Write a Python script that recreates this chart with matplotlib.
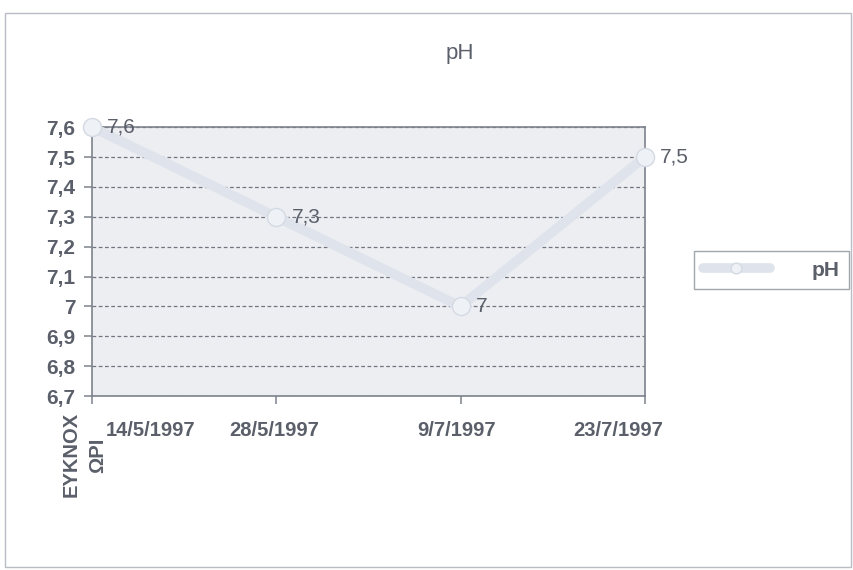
import matplotlib.pyplot as plt
import matplotlib.transforms as mtransforms
from matplotlib.patches import Rectangle

plt.rcParams['font.family'] = ['Liberation Sans', 'DejaVu Sans']

dates = ["14/5/1997", "28/5/1997", "9/7/1997", "23/7/1997"]
ph = [7.6, 7.3, 7.0, 7.5]
point_labels = ["7,6", "7,3", "7", "7,5"]
y_ticks = [6.7, 6.8, 6.9, 7.0, 7.1, 7.2, 7.3, 7.4, 7.5, 7.6]
y_tick_labels = ["6,7", "6,8", "6,9", "7", "7,1", "7,2", "7,3", "7,4", "7,5", "7,6"]
station = "ΕΥΚΝΟΧ\nΩΡΙ"

text_col = "#5a5f6a"
line_col = "#dfe4ec"

fig = plt.figure(figsize=(8.54, 5.7), dpi=100)
fig.patch.set_facecolor("white")
fig.add_artist(Rectangle((0.006, 0.005), 0.99, 0.973, transform=fig.transFigure,
                         fill=False, edgecolor="#b8bcc4", linewidth=1))

ax = fig.add_axes([0.1077, 0.305, 0.6473, 0.472])
ax.set_facecolor("#eceef2")
x = range(len(dates))
ax.plot(x, ph, color=line_col, linewidth=7, solid_capstyle="round",
        marker="o", markersize=13, markerfacecolor="#eef1f6",
        markeredgecolor="#d4dae3", zorder=3, clip_on=False, label="pH")

for i, (v, lab) in enumerate(zip(ph, point_labels)):
    ax.annotate(lab, (i, v), xytext=(11, 0), textcoords="offset points",
                ha="left", va="center", fontsize=15, color=text_col, zorder=4)

ax.set_xlim(0, len(dates) - 1)
ax.set_ylim(6.7, 7.6)
ax.set_yticks(y_ticks)
ax.set_yticklabels(y_tick_labels)
ax.set_xticks(list(x))
ax.set_xticklabels(dates)
ax.yaxis.grid(True, linestyle=(0, (3, 2)), color="#70757e", linewidth=0.9)
ax.set_axisbelow(True)

for s in ax.spines.values():
    s.set_color("#7d828c")
    s.set_linewidth(1.2)

ax.tick_params(axis="both", colors="#7d828c", labelcolor=text_col,
               direction="out", length=6, width=1.1)
ax.tick_params(axis="y", labelsize=15, pad=6)
ax.tick_params(axis="x", labelsize=14.5, pad=12)
for t in ax.get_xticklabels() + ax.get_yticklabels():
    t.set_fontweight("bold")

# shift first and last date labels like the original
shifts = [59, -2, -4, -27]
for t, dx in zip(ax.get_xticklabels(), shifts):
    t.set_transform(t.get_transform() +
                    mtransforms.ScaledTranslation(dx / 100, 0, fig.dpi_scale_trans))

fig.text(0.099, 0.202, station, rotation=90, ha="center", va="center",
         multialignment="center", fontsize=14.5, fontweight="bold", color=text_col,
         linespacing=1.5)

fig.text(0.539, 0.907, "pH", ha="center", va="center", fontsize=16,
         color=text_col)

leg = fig.legend(loc="center", bbox_to_anchor=(0.903, 0.526), frameon=True,
                 fancybox=False, fontsize=15, handlelength=3.2, markerscale=0.6,
                 borderpad=0.45, handletextpad=2.0, markerfirst=True)
leg.get_frame().set_edgecolor("#8a8f98")
leg.get_frame().set_linewidth(1)
for t in leg.get_texts():
    t.set_color(text_col)
    t.set_fontweight("bold")

fig.savefig("out.png", dpi=100)
